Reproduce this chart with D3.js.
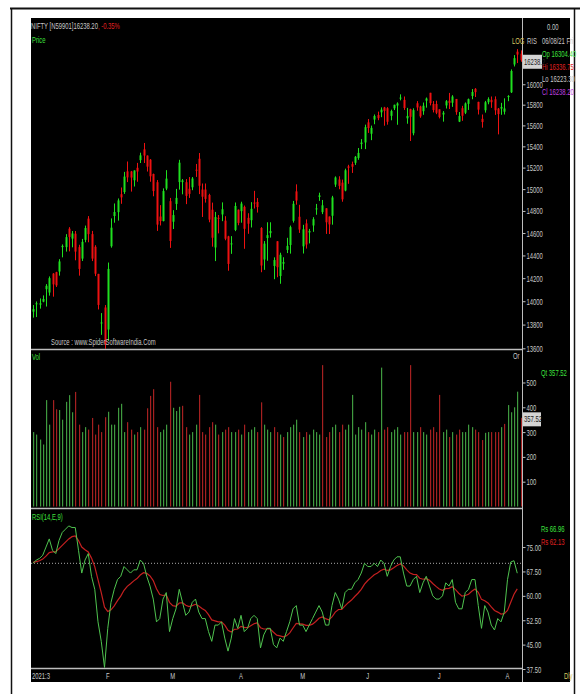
<!DOCTYPE html>
<html>
<head>
<meta charset="utf-8">
<script src="https://cdnjs.cloudflare.com/ajax/libs/d3/7.8.5/d3.min.js"></script>
<style>
  body { margin: 0; background: #fff; }
  svg text { font-family: "Liberation Sans", Arial, sans-serif; font-size: 9.5px; }
</style>
</head>
<body>
<div id="container"></div>
<script>
// NIFTY daily chart with volume and RSI panels

// trading days, Dec 29 2020 .. Aug 6 2021
var opens = [13910,13980,13970, 13996,14104,14075,14240,14253,14258,14474,14474,14639,14550,14594,14474,14372,14539,14730,14590,14477,14237,13811,13946,
  13758,14482,14754,14789,14953,14973,15165,15164,15082,15198,15270,15372,15313,15274,15140,15064,14749,14708,15005,14889,
  14702,14864,15065,15065,15064,15003,15017,15180,15283,14996,14996,14946,14811,14471,14737,14768,14712,14570,14506,14628,14811,
  14798,14837,14737,14716,14876,14882,14645,14364,14555,14599,14307,14526,14219,14327,14449,14493,14710,14979,14747,
  14481,14687,14605,14668,14816,14928,14789,14824,14749,14756,15042,15089,15060,14987,15211,15233,15245,15291,15422,15437,
  15629,15520,15656,15700,15726,15773,15766,15692,15765,15792,15866,15847,15668,15757,15525,15814,15782,15737,15839,15916,15807,15807,
  15755,15705,15793,15839,15819,15856,15636,15766,15722,15808,15885,15955,15827,15663,15746,15824,15847,15853,15762,15762,15732,
  15874,15921,16196,16324,16304];
var highs = [13967,13998,14024, 14050,14148,14215,14244,14256,14367,14498,14590,14653,14618,14618,14495,14547,14667,14753,14619,14491,14238,13898,13967,
  14337,14732,14868,14914,15015,15160,15257,15169,15174,15244,15340,15432,15314,15280,15144,15084,14853,15007,15176,14919,
  14807,15002,15273,15093,15093,15112,15112,15234,15337,15052,15052,14957,14876,14791,14763,14878,14752,14575,14572,14877,14813,
  14884,14849,14779,14880,14984,14918,14653,14528,14697,14697,14383,14527,14424,14384,14557,14667,14891,15044,14856,
  14674,14723,14637,14743,14864,14967,14900,14824,14749,14938,15118,15119,15088,15190,15226,15256,15309,15384,15469,15607,
  15661,15598,15705,15733,15774,15779,15776,15752,15800,15823,15901,15880,15769,15761,15765,15835,15790,15821,15870,15916,15835,15839,
  15755,15738,15845,15915,15893,15856,15729,15789,15822,15860,15953,15962,15829,15705,15837,15872,15880,15881,15768,15818,15862,
  15893,16147,16290,16350,16337];
var lows = [13859,13864,13936, 13991,13954,14048,14039,14123,14222,14383,14434,14436,14472,14357,14222,14351,14517,14517,14350,14218,13929,13713,13596,
  13662,14469,14693,14712,14865,14956,15065,14977,15024,15068,15243,15243,15163,15068,14934,14619,14668,14705,14990,14467,
  14636,14809,14995,14952,14862,14919,14990,15113,14954,14745,14876,14697,14478,14350,14597,14707,14535,14265,14414,14617,14670,
  14693,14459,14593,14650,14822,14785,14252,14273,14353,14559,14191,14208,14151,14273,14421,14416,14694,14857,14601,
  14417,14461,14507,14611,14765,14892,14771,14592,14591,14675,15020,14999,14884,14980,15049,15150,15225,15273,15374,15374,
  15528,15459,15611,15650,15679,15597,15607,15649,15748,15606,15842,15749,15616,15451,15505,15741,15673,15702,15771,15793,15725,15708,
  15667,15636,15763,15758,15779,15702,15632,15644,15709,15749,15853,15875,15705,15578,15723,15804,15769,15701,15514,15702,15705,
  15834,15914,16176,16210,16223];
var closes = [13932,13982,13982, 14019,14133,14200,14146,14137,14347,14485,14563,14565,14596,14434,14281,14521,14645,14590,14372,14239,13968,13818,13635,
  14281,14648,14790,14896,14924,15116,15109,15107,15173,15163,15315,15313,15209,15119,14982,14676,14708,14982,15097,14529,
  14762,14919,15246,15081,14938,14956,15098,15175,15031,14930,14910,14721,14558,14744,14736,14815,14549,14325,14507,14845,14691,
  14867,14638,14684,14819,14874,14835,14311,14505,14581,14618,14359,14296,14406,14341,14485,14653,14865,14895,14631,
  14634,14497,14618,14725,14823,14942,14851,14697,14678,14923,15108,15030,14906,15175,15198,15208,15301,15338,15436,15583,
  15575,15576,15690,15670,15752,15740,15635,15738,15799,15812,15869,15768,15691,15683,15747,15773,15687,15790,15860,15815,15748,15722,
  15680,15722,15834,15818,15880,15728,15690,15693,15812,15854,15924,15923,15752,15632,15824,15856,15824,15746,15709,15778,15763,
  15885,16131,16259,16295,16238];
var volumes = [300,290,270,
  250,429,330,429,392,389,350,422,449,380,462,330,300,320,310,357,290,330,300,360,
  382,330,330,398,414,300,340,310,290,300,320,310,396,446,473,320,300,310,330,503,
  398,385,402,406,320,290,300,330,450,300,290,320,340,330,290,300,310,320,300,300,310,
  290,330,300,310,320,300,420,330,310,300,320,300,290,280,300,320,330,350,300,
  280,300,290,310,300,290,570,280,300,320,330,300,330,310,330,450,290,320,310,340,
  300,290,310,300,560,310,320,300,310,320,290,300,300,570,300,300,320,300,290,310,320,300,
  450,300,310,280,300,290,310,300,300,330,320,310,300,268,297,300,300,300,300,320,333,
  409,380,400,463,357.52];
var rsiLine = [70,71,71.5, 72.5,75,77.5,74,73,77,79.5,80.5,81.5,81,81,74,67,71,73,66,62,52,46,38,
  50,58,62,65,66,69,68,67,68,68,71,70,66,63,59,52,53,59,61,49,
  53,56,62,58,54,55,58,59,55,53,53,49,46,51,51,52,47,43,47,53,50,
  54,49,50,53,54,53,44,48,50,50,45,44,47,46,49,52,56,57,51,
  51,49,51,53,55,57,55,51,51,57,61,59,56,61,62,62,64,65,67,70,
  69,69,70,69,71,70,66,69,71,72,72,67,63,63,65,66,61,64,66,63,60,59,
  59,60,64,63,65,58,56,56,61,62,65,65,57,50,57,55,51,49.5,53,52,55,
  65,70.4,70.8,66.96];
var rsiSignal = [70.3,70.5,70.8, 71.3,72.2,73.3,73.5,73.6,74.5,75.5,76.5,77.5,78.2,78.4,77,75,74.2,73.5,71.6,69,65,61,56.5,
  55.2,55.7,56.9,58.5,59.9,61.7,62.9,63.7,64.6,65.3,66.4,67.1,66.9,66.1,64.7,62.2,60.4,60.1,60.3,58,
  57,56.8,57.8,57.9,57.1,56.7,57,57.4,56.9,56.1,55.5,54.2,52.6,52.3,52,52,51,49.4,48.9,49.7,49.8,
  50.6,50.3,50.2,50.8,51.4,51.7,50.2,49.8,49.8,49.8,48.8,47.9,47.7,47.4,47.7,48.6,50.1,51.5,51.4,
  51.3,50.9,50.9,51.3,52.1,53.1,53.5,53,52.6,53.5,55,55.8,55.8,56.9,57.9,58.7,59.8,60.8,62,63.6,
  64.7,65.6,66.5,67,67.8,68.2,67.8,68,68.6,69.3,69.8,69.2,68,67,66.6,66.5,65.4,65.1,65.3,64.8,63.8,62.9,
  62.1,61.7,62.2,62.3,62.8,61.9,60.8,59.9,60.1,60.5,61.4,62.1,61.1,58.9,58.5,57.8,56.6,55.5,55,54.4,54.5,
  55.5,58,60.5,62.13];

var priceTicks = [13600,13800,14000,14200,14400,14600,14800,15000,15200,15400,15600,15800,16000];
var volTicks = [100,200,300,400,500];
var rsiTicks = [37.5,45,52.5,60,67.5,75];
var monthLabels = ['F','M','A','M','J','J','A'];
var monthStart = [23,43,64,83,103,125,146];

var W = 580, H = 694;
var left = 31, right = 522, blackRight = 570;
var price = {top: 18, bottom: 349.5},
    vol = {top: 350, bottom: 508.5},
    rsi = {top: 509, bottom: 668.5};

var green = '#1fe01f', red = '#ee1111';
var volGreen = '#3f9a3f', volRed = '#a52020';
var axisGray = '#bdbdbd', textGray = '#c8c8c8';
var squeeze = 0.62; // the terminal font is very narrow

var svg = d3.select('#container').append('svg')
  .attr('width', W)
  .attr('height', H);

// narrow text helper
function label(px, py, str, fill, anchor) {
  return svg.append('text')
    .attr('transform', 'translate(' + px + ',' + py + ') scale(' + squeeze + ',1)')
    .attr('text-anchor', anchor || 'start')
    .attr('fill', fill)
    .text(str);
}

// outer frame
svg.append('rect').attr('x', 0).attr('y', 0).attr('width', W).attr('height', H).attr('fill', '#fff');
svg.append('rect')
  .attr('x', left).attr('y', price.top)
  .attr('width', blackRight - left).attr('height', 682 - price.top)
  .attr('fill', '#000');
svg.append('line').attr('x1', 10).attr('x2', W).attr('y1', 8.5).attr('y2', 8.5)
  .attr('stroke', '#111').attr('stroke-width', 2);
svg.append('line').attr('x1', 11.5).attr('x2', 11.5).attr('y1', 8).attr('y2', H)
  .attr('stroke', '#111').attr('stroke-width', 1.5);
svg.append('line').attr('x1', 574.5).attr('x2', 574.5).attr('y1', 8).attr('y2', H)
  .attr('stroke', '#111').attr('stroke-width', 1.5);

// scales
var x = d3.scaleLinear().domain([0, closes.length - 1]).range([33, 520.5]);
var yPrice = d3.scaleLog().domain([13585.8, 16666]).range([price.bottom + 0.5, price.top]);
var yVol = d3.scaleLinear().domain([0, 631]).range([506.5, vol.top]);
var yRsi = d3.scaleLinear().domain([37.5, 86.7]).range([669, rsi.top]);

var clip = svg.append('clipPath').attr('id', 'plot-clip');
clip.append('rect').attr('x', left).attr('y', price.top).attr('width', right - left).attr('height', rsi.bottom - price.top);

var plot = svg.append('g').attr('clip-path', 'url(#plot-clip)');

// candles
var candles = plot.append('g').selectAll('g')
  .data(closes)
  .enter().append('g');

candles.append('line')
  .attr('x1', function(d, i) { return Math.round(x(i)) + 0.5; })
  .attr('x2', function(d, i) { return Math.round(x(i)) + 0.5; })
  .attr('y1', function(d, i) { return yPrice(highs[i]); })
  .attr('y2', function(d, i) { return yPrice(lows[i]); })
  .attr('stroke', function(d, i) { return d >= opens[i] ? green : red; })
  .attr('stroke-width', 1);

candles.append('rect')
  .attr('x', function(d, i) { return Math.round(x(i)) - 0.5; })
  .attr('width', 2)
  .attr('y', function(d, i) { return yPrice(Math.max(d, opens[i])); })
  .attr('height', function(d, i) { return Math.max(1, Math.abs(yPrice(d) - yPrice(opens[i]))); })
  .attr('fill', function(d, i) { return d >= opens[i] ? green : red; });

// volume bars, coloured by close vs previous close
plot.append('g').selectAll('rect')
  .data(volumes)
  .enter().append('rect')
  .attr('x', function(d, i) { return Math.round(x(i)); })
  .attr('width', 1.2)
  .attr('y', function(d) { return yVol(d); })
  .attr('height', function(d) { return yVol(0) - yVol(d); })
  .attr('fill', function(d, i) { return (i === 0 || closes[i] >= closes[i - 1]) ? volGreen : volRed; });

// rsi reference line
plot.append('line')
  .attr('x1', left).attr('x2', right)
  .attr('y1', yRsi(70)).attr('y2', yRsi(70))
  .attr('stroke', '#aaa').attr('stroke-width', 1).attr('stroke-dasharray', '1,2');

var rsiPath = d3.line()
  .x(function(d, i) { return x(i); })
  .y(function(d) { return yRsi(d); });

plot.append('path').datum(rsiSignal)
  .attr('d', rsiPath).attr('fill', 'none').attr('stroke', '#c42020').attr('stroke-width', 1.2);
plot.append('path').datum(rsiLine)
  .attr('d', rsiPath).attr('fill', 'none').attr('stroke', '#4fc34f').attr('stroke-width', 1);

// panel separators and right axis line
[price.bottom, vol.bottom, rsi.bottom].forEach(function(yy) {
  svg.append('line').attr('x1', left).attr('x2', right + 1).attr('y1', yy).attr('y2', yy)
    .attr('stroke', axisGray).attr('stroke-width', 1.5);
});
svg.append('line').attr('x1', right + 0.5).attr('x2', right + 0.5).attr('y1', price.top).attr('y2', 682)
  .attr('stroke', axisGray).attr('stroke-width', 1);

// right axes
var priceAxis = d3.axisRight(yPrice).tickValues(priceTicks).tickSize(3).tickPadding(1).tickFormat(d3.format('d'));
var volAxis = d3.axisRight(yVol).tickValues(volTicks).tickSize(3).tickPadding(1).tickFormat(d3.format('d'));
var rsiAxis = d3.axisRight(yRsi).tickValues(rsiTicks).tickSize(3).tickPadding(1).tickFormat(d3.format('.2f'));

[priceAxis, volAxis, rsiAxis].forEach(function(a) {
  var g = svg.append('g').attr('class', 'axis').attr('transform', 'translate(' + (right + 0.5) + ',0)').call(a);
  g.select('.domain').remove();
  g.selectAll('line').attr('stroke', axisGray);
  g.selectAll('text')
    .attr('x', 4 / squeeze)
    .attr('transform', 'scale(' + squeeze + ',1)')
    .attr('fill', textGray)
    .style('font-size', '9.5px');
});

// last value boxes
function valueBox(yy, str, w) {
  svg.append('rect').attr('x', right + 1).attr('y', yy - 6.5).attr('width', w).attr('height', 14).attr('fill', '#d4d4d4');
  label(right + 2, yy + 3.5, str, '#222');
}
valueBox(yPrice(closes[closes.length - 1]) + 1, '16238.2', 19);
valueBox(yVol(volumes[volumes.length - 1]) + 1, '357.52', 18);

// month labels along the bottom
svg.append('g').selectAll('text')
  .data(monthLabels)
  .enter().append('text')
  .attr('transform', function(d, i) { return 'translate(' + x(monthStart[i]) + ',679) scale(' + squeeze + ',1)'; })
  .attr('text-anchor', 'middle')
  .attr('fill', textGray)
  .text(function(d) { return d; });
label(32, 679, '2021:3', textGray);

// panel titles
var head = label(31, 29, '', textGray);
head.append('tspan').text('NIFTY [N59901]16238.20');
head.append('tspan').attr('fill', '#e02020').text(', -0.35%');
label(32, 43, 'Price', '#3ee03e');
label(32, 360, 'Vol', '#3ee03e');
label(32, 520, 'RSI(14,E,9)', '#3ee03e');
label(513, 359, 'Or', textGray);
label(51, 345, 'Source : www.SpiderSoftwareIndia.Com', textGray);

// info column on the right
label(512, 44, 'LOG', '#d8c860');
label(527, 44, 'RIS', textGray);
label(547, 30, '0.00', textGray);
var info = [
  ['06/08/21 Fri', textGray, 44],
  ['Op 16304.40', '#3ee03e', 57],
  ['Hi 16336.75', '#e02020', 70],
  ['Lo 16223.30', textGray, 82],
  ['Cl 16238.20', '#c040e0', 95]
];
info.forEach(function(r) {
  label(542, r[2], r[0], r[1]);
});
label(541, 376, 'Qt  357.52', '#3ee03e');
label(541, 532, 'Rs   66.96', '#3ee03e');
label(541, 545, 'Rs   62.13', '#e02020');
label(564, 679, 'Dly', '#d8c860');
</script>
</body>
</html>
